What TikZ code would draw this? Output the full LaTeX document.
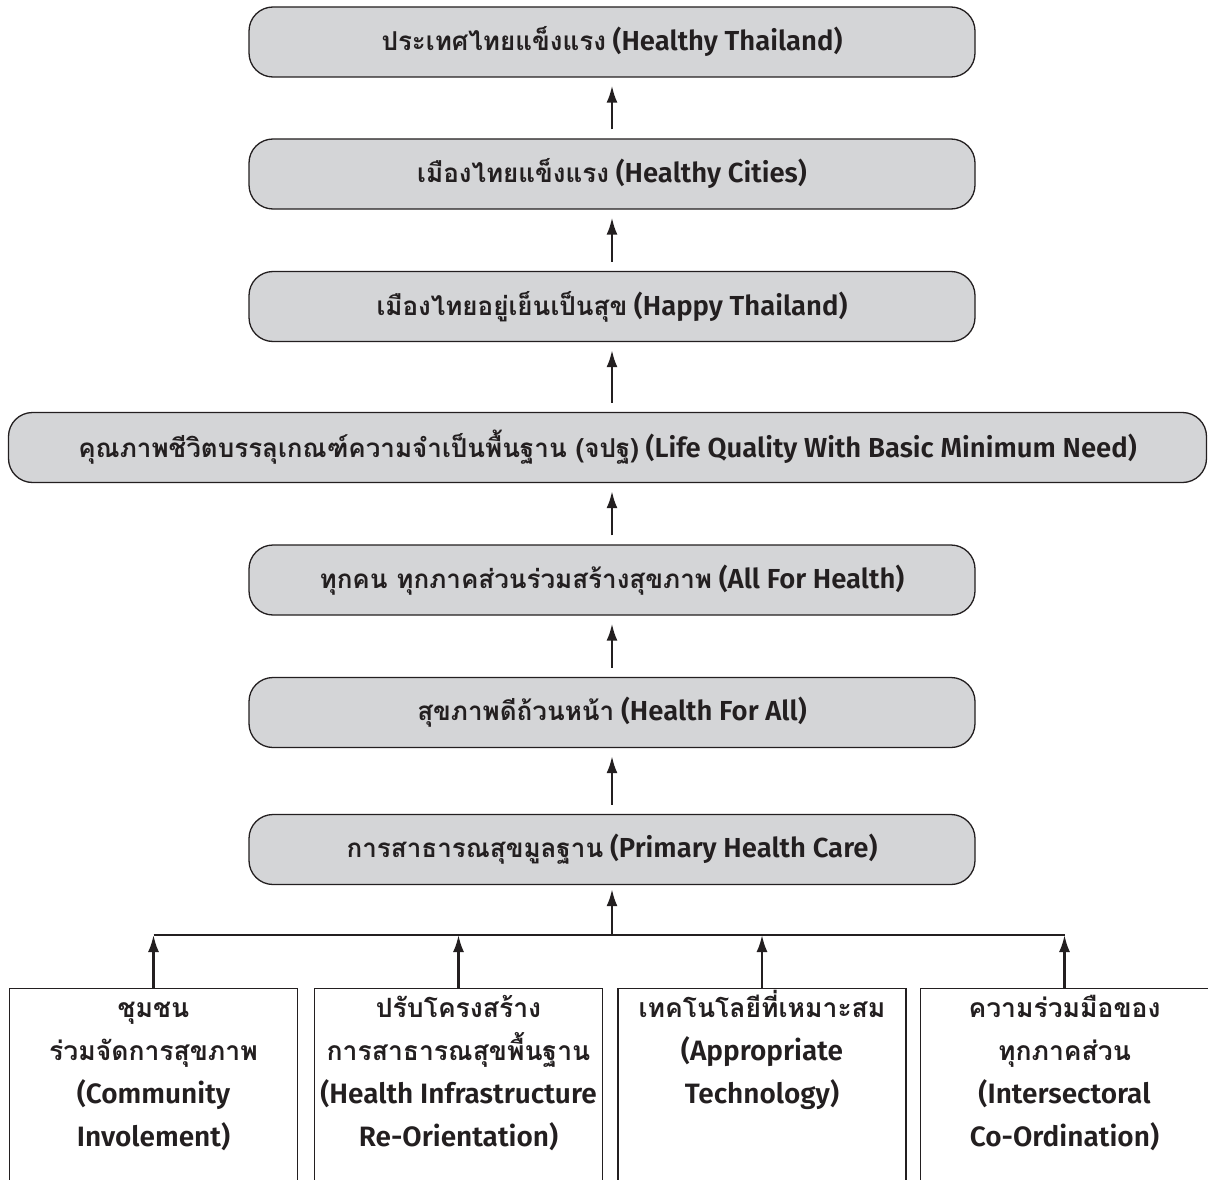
\documentclass[tikz,border=0pt]{standalone}
\usepackage{fontspec}
\setmainfont{Fira Sans}[BoldFont={Fira Sans SemiBold}]
\newfontfamily\thaifont[Script=Thai]{Loma}
\usetikzlibrary{arrows.meta}
\newcommand{\thx}[1]{{\thaifont\fontsize{26}{43}\selectfont\bfseries #1}}
\newcommand{\thb}[1]{{\thaifont\fontsize{26.5}{43}\selectfont\bfseries #1}}
\newcommand{\fl}{\rule{0pt}{28pt}}
\definecolor{boxgray}{RGB}{212,213,215}
\definecolor{ink}{RGB}{35,31,32}
\tikzset{
  mainbox/.style={draw=ink, line width=1.3pt, fill=boxgray, rounded corners=24pt,
    minimum width=726pt, minimum height=70pt, inner sep=0pt, text=ink,
    font=\fontsize{27.5}{30}\selectfont\bfseries},
  bottombox/.style={draw=ink, line width=1.3pt, anchor=north, minimum width=288pt,
    minimum height=240pt, inner sep=0pt},
  btext/.style={anchor=north, align=center, text=ink, inner sep=0pt,
    font=\fontsize{28}{43}\selectfont\bfseries},
  uparrow/.style={draw=ink, line width=2.4pt, -{Latex[length=17pt,width=11pt]}},
}
\begin{document}
\begin{tikzpicture}[x=1pt,y=-1pt]
\useasboundingbox (0,0) rectangle (1208,1180);
\clip (0,0) rectangle (1208,1180);
\fill[white] (0,0) rectangle (1208,1180);
\node[mainbox] (m1) at (612,42) {\thx{ประเทศไทยแข็งแรง} (Healthy Thailand)};
\node[mainbox] (m2) at (612,174) {\thx{เมืองไทยแข็งแรง} (Healthy Cities)};
\node[mainbox] (m3) at (612,306.5) {\thx{เมืองไทยอยู่เย็นเป็นสุข} (Happy Thailand)};
\node[mainbox, minimum width=1198pt] (m4) at (607.5,447.5) {\thx{คุณภาพชีวิตบรรลุเกณฑ์ความจำเป็นพื้นฐาน (จปฐ)} (Life Quality With Basic Minimum Need)};
\node[mainbox] (m5) at (612,580) {\thx{ทุกคน ทุกภาคส่วนร่วมสร้างสุขภาพ} (All For Health)};
\node[mainbox] (m6) at (612,712.5) {\thx{สุขภาพดีถ้วนหน้า} (Health For All)};
\node[mainbox] (m7) at (612,849.5) {\thx{การสาธารณสุขมูลฐาน} (Primary Health Care)};
\foreach \lo/\hi in {m2/m1,m3/m2,m4/m3,m5/m4,m6/m5,m7/m6}
  \draw[uparrow, shorten <=9pt, shorten >=8pt] (\lo.north -| m1.south) -- (m1.south |- \hi.south);
\node[bottombox] (b1) at (153.5,988) {};
\node[bottombox] (b2) at (458.5,988) {};
\node[bottombox] (b3) at (762,988) {};
\node[bottombox] (b4) at (1064.5,988) {};
\node[btext] (t1) at ([yshift=-1pt]b1.north) {\fl\thb{ชุมชน}\\\thb{ร่วมจัดการสุขภาพ}\\(Community\\Involement)};
\node[btext] (t2) at ([yshift=-1pt]b2.north) {\fl\thb{ปรับโครงสร้าง}\\\thb{การสาธารณสุขพื้นฐาน}\\(Health Infrastructure\\Re-Orientation)};
\node[btext] (t3) at ([yshift=-1pt]b3.north) {\fl\thb{เทคโนโลยีที่เหมาะสม}\\(Appropriate\\Technology)};
\node[btext] (t4) at ([yshift=-1pt]b4.north) {\fl\thb{ความร่วมมือของ}\\\thb{ทุกภาคส่วน}\\(Intersectoral\\Co-Ordination)};
\coordinate (bar) at (612,935);
\draw[draw=ink, line width=2.4pt] (b1.north |- bar) -- (b4.north |- bar);
\draw[uparrow, shorten >=4pt] (bar) -- (m7.south);
\foreach \b in {b1,b2,b3,b4}
  \draw[uparrow] (\b.north) -- (\b.north |- bar);
\end{tikzpicture}
\end{document}
